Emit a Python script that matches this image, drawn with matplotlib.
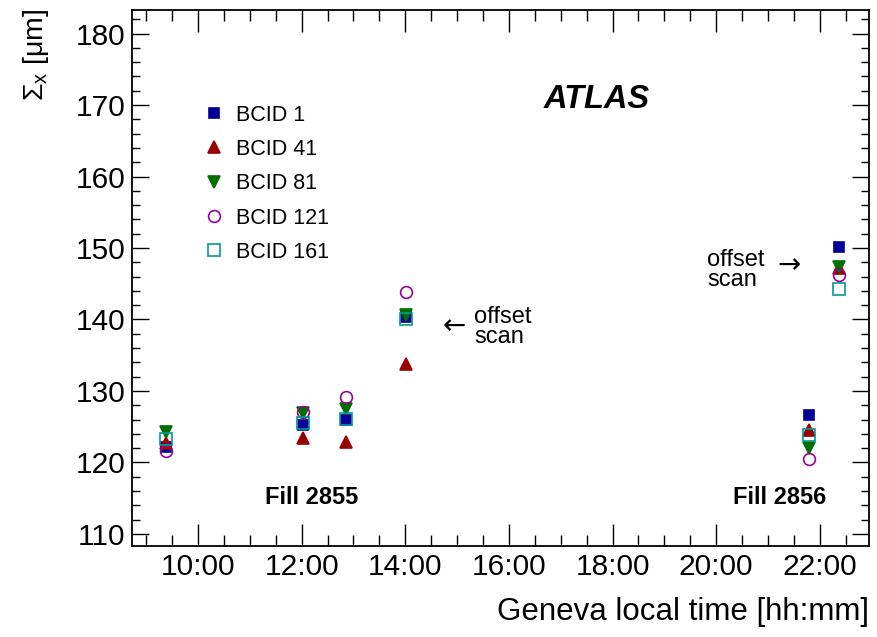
import matplotlib
matplotlib.use("Agg")
import matplotlib.pyplot as plt
from matplotlib.ticker import MultipleLocator, FuncFormatter

plt.rcParams['font.family'] = ['Liberation Sans', 'DejaVu Sans']
plt.rcParams['mathtext.fontset'] = 'custom'
plt.rcParams['mathtext.rm'] = 'Liberation Sans'
plt.rcParams['mathtext.it'] = 'Liberation Sans:italic'

# ---- data ----
times = ["09:23", "12:01", "12:51", "14:01", "21:47", "22:22"]
bcid_labels = ["BCID 1", "BCID 41", "BCID 81", "BCID 121", "BCID 161"]
sigma_bcid1 = [122.2, 125.2, 126.0, 140.3, 126.6, 150.2]
sigma_bcid41 = [122.7, 123.4, 122.9, 133.8, 124.5, 147.2]
sigma_bcid81 = [124.2, 126.9, 127.4, 140.6, 122.0, 147.4]
sigma_bcid121 = [121.6, 127.1, 129.2, 143.8, 120.5, 146.2]
sigma_bcid161 = [123.3, 125.5, 126.1, 140.0, 123.8, 144.2]
xtick_hours = [10, 12, 14, 16, 18, 20, 22]

series = [sigma_bcid1, sigma_bcid41, sigma_bcid81, sigma_bcid121, sigma_bcid161]
colors = ["#000099", "#990000", "#006f00", "#990099", "#009999"]
markers = ["s", "^", "v", "o", "s"]
filled = [True, True, True, False, False]
msizes = [7.5, 8.5, 8.5, 8.5, 8]

def to_hours(t):
    h, m = t.split(":")
    return int(h) + int(m) / 60.0

x = [to_hours(t) for t in times]

W, H = 877, 637
fig = plt.figure(figsize=(W / 100, H / 100), dpi=100)
ax = fig.add_axes([132 / W, 1 - 546 / H, (869 - 132) / W, (546 - 10) / H])

for vals, c, m, f, ms, lab in zip(series, colors, markers, filled, msizes, bcid_labels):
    ax.plot(x, vals, linestyle='none', marker=m, color=c, ms=ms,
            mfc=c if f else 'none', mec=c, mew=1.2, label=lab, zorder=3)

ax.set_xlim(8.726, 22.95)
ax.set_ylim(108.3, 183.3)

ax.xaxis.set_major_locator(MultipleLocator(2))
ax.xaxis.set_minor_locator(MultipleLocator(0.5))
ax.yaxis.set_major_locator(MultipleLocator(10))
ax.yaxis.set_minor_locator(MultipleLocator(2))
ax.set_xticks(xtick_hours)
ax.xaxis.set_major_formatter(FuncFormatter(lambda v, p: "%02d:00" % int(round(v))))

ax.tick_params(which='both', direction='in', top=True, right=True, width=1.0, labelsize=21.5)
ax.tick_params(which='major', length=16)
ax.tick_params(which='minor', length=8)
ax.tick_params(axis='y', which='major', length=12)
ax.tick_params(axis='y', which='minor', length=6)
ax.tick_params(axis='x', pad=5)
ax.tick_params(axis='y', pad=5)
for s in ax.spines.values():
    s.set_linewidth(1.3)

fig.text(869 / W, 1 - 612 / H, "Geneva local time [hh:mm]", ha='right', va='center', fontsize=22.5)
fig.text(36 / W, 1 - 9 / H, r"$\Sigma_{\rm x}$ [μm]", rotation=90, ha='center', va='top', fontsize=20.5)

leg = ax.legend(loc='upper left', bbox_to_anchor=(65 / 737, 1 - 86 / 536), frameon=False,
                fontsize=15.5, handlelength=0.8, handletextpad=0.6, labelspacing=0.62,
                borderaxespad=0, numpoints=1)

fig.text(597 / W, 1 - 100 / H, "ATLAS", ha='center', va='center', fontsize=23.5,
         fontweight='bold', fontstyle='italic')
fig.text(312 / W, 1 - 497 / H, "Fill 2855", ha='center', va='center', fontsize=17, fontweight='bold')
fig.text(780 / W, 1 - 497 / H, "Fill 2856", ha='center', va='center', fontsize=17, fontweight='bold')

fig.text(454 / W, 1 - 326 / H, "←", ha='center', va='center', fontsize=20, family='DejaVu Sans')
fig.text(474 / W, 1 - 327 / H, "offset\nscan", ha='left', va='center', fontsize=17, linespacing=0.9)
fig.text(707 / W, 1 - 270 / H, "offset\nscan", ha='left', va='center', fontsize=17, linespacing=0.9)
fig.text(789 / W, 1 - 265 / H, "→", ha='center', va='center', fontsize=20, family='DejaVu Sans')

fig.savefig("out.png", dpi=100)
